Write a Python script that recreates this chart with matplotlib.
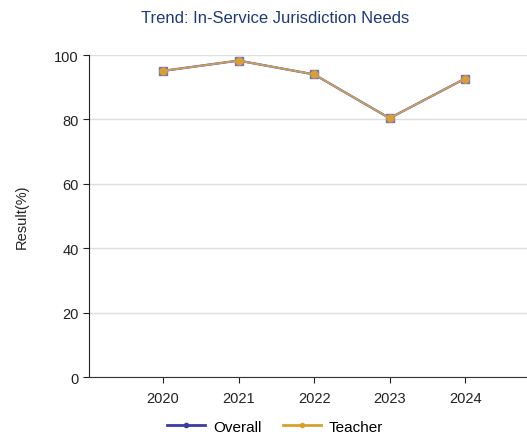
import matplotlib
matplotlib.use('Agg')
import matplotlib.pyplot as plt

years = [2020, 2021, 2022, 2023, 2024]
overall = [95.1, 98.3, 94.0, 80.4, 92.7]
teacher = [95.1, 98.3, 94.0, 80.4, 92.7]
yticks = [0, 20, 40, 60, 80, 100]

plt.rcParams['font.family'] = ['Liberation Sans', 'DejaVu Sans']

fig = plt.figure(figsize=(5.27, 4.35), dpi=100)
ax = fig.add_axes([0.169, 0.131, 0.831, 0.740])

blue = '#3b3ba0'
gold = '#d9a030'

ax.plot(years, overall, color=blue, linewidth=1.6, marker='s', markersize=6,
        markerfacecolor='#6a6ac0', markeredgecolor='#7070c0', label='Overall', zorder=3)
ax.plot(years, teacher, color='#c9a060', linewidth=1.4, marker='o', markersize=5,
        markerfacecolor=gold, markeredgecolor=gold, label='Teacher', zorder=4)

ax.set_xlim(2019.02, 2024.82)
ax.set_ylim(0, 100)
ax.set_xticks(years)
ax.set_xticklabels([str(y) for y in years])
ax.set_yticks(yticks)
ax.yaxis.grid(True, color='#dedede', linewidth=1)
ax.set_axisbelow(True)

for side in ['top', 'right']:
    ax.spines[side].set_visible(False)
ax.spines['left'].set_color('#222222')
ax.spines['bottom'].set_color('#333333')
ax.tick_params(axis='both', labelsize=10.5, colors='#222222', length=4, direction='out')
ax.tick_params(axis='x', pad=6)

ax.set_ylabel('Result(%)', fontsize=10.5, color='#222222', labelpad=18)
fig.text(0.522, 0.957, 'Trend: In-Service Jurisdiction Needs', ha='center', va='center',
         fontsize=12, color='#1f3a78')

# legend handles: plain coloured lines with a small dot
h1 = plt.Line2D([], [], color=blue, linewidth=2, marker='o', markersize=3)
h2 = plt.Line2D([], [], color=gold, linewidth=2, marker='o', markersize=3)
fig.legend([h1, h2], ['Overall', 'Teacher'], loc='center', bbox_to_anchor=(0.522, 0.017),
           ncol=2, frameon=False, fontsize=11, handlelength=2.5, columnspacing=1.4,
           handletextpad=0.5)

fig.savefig('out.png', dpi=100)
